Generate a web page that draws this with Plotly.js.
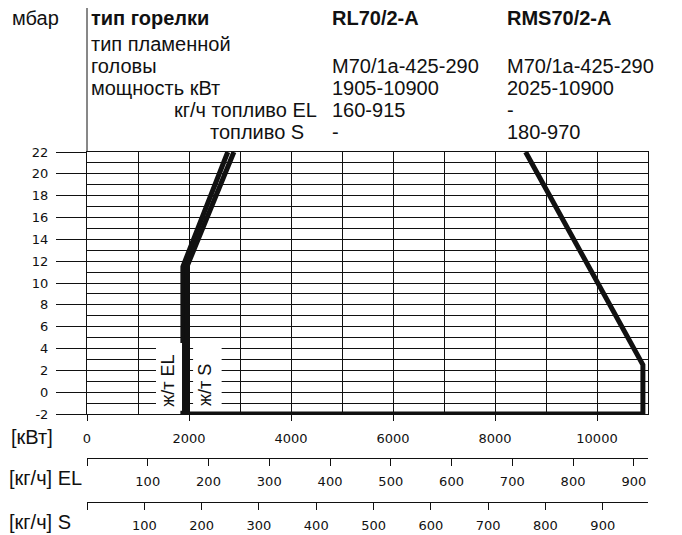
<!DOCTYPE html>
<html>
<head>
<meta charset="utf-8">
<script src="https://cdn.plot.ly/plotly-3.0.1.min.js"></script>
<style>
  html, body { margin: 0; padding: 0; background: #fff; }
  #chart { width: 682px; height: 535px; }
</style>
</head>
<body>
<div id="chart"></div>
<script>
// ---------- data ----------
const burnerModels = ['RL70/2-A', 'RMS70/2-A'];
const flameHeads   = ['M70/1a-425-290', 'M70/1a-425-290'];
const powerRanges  = ['1905-10900', '2025-10900'];
const fuelELRanges = ['160-915', '-'];
const fuelSRanges  = ['-', '180-970'];
const rowLabels    = ['тип горелки', 'тип пламенной', 'головы', 'мощность кВт', 'кг/ч топливо EL', 'топливо S'];

// working field curves (kW vs mbar)
const elCurveKW   = [2760, 1880, 1880];
const elCurveMbar = [22, 11.5, -2];
const sCurveKW    = [2880, 1960, 1960];
const sCurveMbar  = [22, 11.5, -2];
const outerKW     = [1880, 10900, 10900, 8600];
const outerMbar   = [-2, -2, 2.5, 22];

// axes
const kwRange    = [0, 11000];
const kwTicks    = [0, 2000, 4000, 6000, 8000, 10000];
const kwLabels   = ['0', '2000', '4000', '6000', '8000', '10000'];
const mbarRange  = [-2, 22];
const mbarTicks  = [-2, 0, 2, 4, 6, 8, 10, 12, 14, 16, 18, 20, 22];
const mbarLabels = ['-2', '0', '2', '4', '6', '8', '10', '12', '14', '16', '18', '20', '22'];
const fuelTicks  = [0, 100, 200, 300, 400, 500, 600, 700, 800, 900];
const fuelLabels = ['', '100', '200', '300', '400', '500', '600', '700', '800', '900'];
const maxKW = 10900, maxEL = 915, maxS = 970;   // from the table

// ---------- layout helpers ----------
const W = 682, H = 535;
const M = {l: 87, r: 34, t: 152, b: 33};
const PW = W - M.l - M.r, PH = H - M.t - M.b;
const px = x => (x - M.l) / PW;          // pixel -> paper x
const py = y => (H - M.b - y) / PH;      // pixel -> paper y
const FONT = 'Liberation Sans, Arial, sans-serif';
const NUMFONT = 'DejaVu Sans, sans-serif';
const INK = '#111';

const lineStyle = {color: INK, width: 5};
const traces = [
  {x: elCurveKW, y: elCurveMbar, mode: 'lines', line: lineStyle, hoverinfo: 'skip'},
  {x: sCurveKW,  y: sCurveMbar,  mode: 'lines', line: lineStyle, hoverinfo: 'skip'},
  {x: outerKW,   y: outerMbar,   mode: 'lines', line: lineStyle, hoverinfo: 'skip'},
  {x: [], y: [], xaxis: 'x2', yaxis: 'y', mode: 'lines', hoverinfo: 'skip'},
  {x: [], y: [], xaxis: 'x3', yaxis: 'y', mode: 'lines', hoverinfo: 'skip'}
];

const txt = (text, x, y, opts = {}) => Object.assign({
  text, xref: 'paper', yref: 'paper', x: px(x), y: py(y),
  xanchor: 'left', yanchor: 'middle', showarrow: false, borderpad: 0,
  font: {family: FONT, size: 20, color: INK}
}, opts);

const col1 = 90, col2 = 331, col3 = 506;
const rows = [18, 44, 66, 88, 110, 132];
const annotations = [
  txt('мбар', 11, rows[0]),
  txt('<b>' + rowLabels[0] + '</b>', col1, rows[0]),
  txt('<b>' + burnerModels[0] + '</b>', col2, rows[0]),
  txt('<b>' + burnerModels[1] + '</b>', col3, rows[0]),
  txt(rowLabels[1], col1, rows[1]),
  txt(rowLabels[2], col1, rows[2]),
  txt(flameHeads[0], col2, rows[2]),
  txt(flameHeads[1], col3, rows[2]),
  txt(rowLabels[3], col1, rows[3]),
  txt(powerRanges[0], col2, rows[3]),
  txt(powerRanges[1], col3, rows[3]),
  txt(rowLabels[4], 318, rows[4], {xanchor: 'right'}),
  txt(fuelELRanges[0], col2, rows[4]),
  txt(fuelELRanges[1], col3, rows[4]),
  txt(rowLabels[5], 305, rows[5], {xanchor: 'right'}),
  txt(fuelSRanges[0], col2, rows[5]),
  txt(fuelSRanges[1], col3, rows[5]),
  txt('[кВт]', 10, 437),
  txt('[кг/ч] EL', 8, 478),
  txt('[кг/ч] S', 8, 522),
  {text: 'ж/т EL', xref: 'x', yref: 'y', x: 1598, y: 1.0, textangle: -90,
   showarrow: false, font: {family: FONT, size: 18, color: INK}},
  {text: 'ж/т S', xref: 'x', yref: 'y', x: 2314, y: 0.65, textangle: -90,
   showarrow: false, font: {family: FONT, size: 18, color: INK}}
];

const shapes = [
  // header separator: the y-axis line running up through the table
  {type: 'line', xref: 'paper', yref: 'paper', x0: 0, x1: 0, y0: 1, y1: py(8),
   line: {color: INK, width: 1}},
  // white label boxes
  {type: 'rect', xref: 'x', yref: 'y', x0: 1353, x1: 1863, y0: -1.7, y1: 4.5,
   fillcolor: '#fff', line: {width: 0}, layer: 'above'},
  {type: 'rect', xref: 'x', yref: 'y', x0: 2080, x1: 2640, y0: -1.7, y1: 4.5,
   fillcolor: '#fff', line: {width: 0}, layer: 'above'}
];

const axisCommon = {
  showline: true, linecolor: INK, linewidth: 1, zeroline: false,
  ticks: 'outside', tickcolor: INK, tickwidth: 1
};

const layout = {
  width: W, height: H, margin: M,
  paper_bgcolor: '#fff', plot_bgcolor: '#fff',
  showlegend: false,
  xaxis: Object.assign({}, axisCommon, {
    domain: [0, 1], range: kwRange, anchor: 'y',
    tickmode: 'array', tickvals: kwTicks, ticktext: kwLabels, ticklen: 6, mirror: true,
    showgrid: true, gridcolor: INK, gridwidth: 1,
    minor: {tickmode: 'linear', tick0: 0, dtick: 1000, showgrid: true, gridcolor: INK, gridwidth: 1, ticks: ''},
    tickfont: {family: NUMFONT, size: 13, color: INK}, ticklabelstandoff: 6
  }),
  yaxis: Object.assign({}, axisCommon, {
    domain: [py(414), 1], range: mbarRange,
    tickmode: 'array', tickvals: mbarTicks, ticktext: mbarLabels, ticklen: 30, mirror: true,
    showgrid: true, gridcolor: INK, gridwidth: 1,
    minor: {tickmode: 'linear', tick0: 0, dtick: 1, showgrid: true, gridcolor: INK, gridwidth: 1, ticks: ''},
    tickfont: {family: NUMFONT, size: 13, color: INK}, ticklabelstandoff: 5
  }),
  xaxis2: Object.assign({}, axisCommon, {
    overlaying: 'x', anchor: 'free', position: py(458), side: 'bottom',
    range: [0, kwRange[1] * maxEL / maxKW], showgrid: false,
    tickmode: 'array', tickvals: fuelTicks, ticktext: fuelLabels,
    ticklen: 7, tickfont: {family: NUMFONT, size: 13, color: INK}, ticklabelstandoff: 4
  }),
  xaxis3: Object.assign({}, axisCommon, {
    overlaying: 'x', anchor: 'free', position: py(502), side: 'bottom',
    range: [0, kwRange[1] * maxS / maxKW], showgrid: false,
    tickmode: 'array', tickvals: fuelTicks, ticktext: fuelLabels,
    ticklen: 7, tickfont: {family: NUMFONT, size: 13, color: INK}, ticklabelstandoff: 4
  }),
  annotations, shapes
};

Plotly.newPlot('chart', traces, layout, {staticPlot: true, displayModeBar: false});
</script>
</body>
</html>
